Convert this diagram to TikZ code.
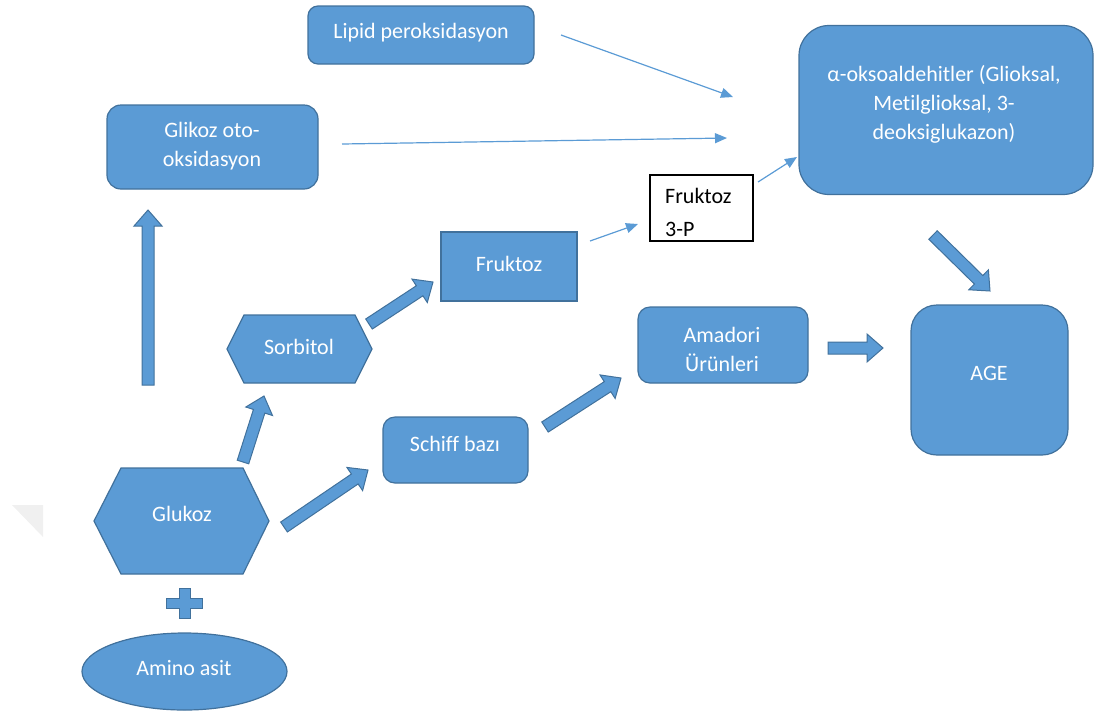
\documentclass[tikz,border=0pt]{standalone}
\usepackage{fontspec}
\setmainfont{Carlito}[Ligatures={NoCommon}]
\usetikzlibrary{calc,arrows.meta,shapes.geometric}
\definecolor{ofill}{HTML}{5B9BD5}
\definecolor{oline}{HTML}{41719C}
\def\blkw{6pt}
\def\blkh{14pt}
\def\blkl{16pt}
\newcommand\blockarrow[2]{%
  \draw[blk] ($(#1)!\blkw!90:(#2)$)
    -- ($(#2)!\blkl!(#1)!\blkw!-90:(#1)$)
    -- ($(#2)!\blkl!(#1)!\blkh!-90:(#1)$)
    -- (#2)
    -- ($(#2)!\blkl!(#1)!\blkh!90:(#1)$)
    -- ($(#2)!\blkl!(#1)!\blkw!90:(#1)$)
    -- ($(#1)!\blkw!-90:(#2)$) -- cycle;}
\begin{document}
\begin{tikzpicture}[x=1pt,y=-1pt,
  shapebox/.style={draw=oline, fill=ofill, line width=1.2pt, inner sep=0pt},
  rbox/.style={shapebox, rounded corners=#1},
  rbox/.default=12pt,
  txt/.style={text=white, font=\fontsize{22}{29}\selectfont, align=center, inner sep=0pt},
  blk/.style={draw=oline, fill=ofill, line width=1pt},
  thin/.style={draw=ofill, line width=1.2pt, -{Triangle[length=12pt,width=10pt]}}]
\useasboundingbox (0,0) rectangle (1094,716);

% faint artefact
\fill[gray!12] (12,505) -- (43,505) -- (43,537) -- cycle;

% boxes
\node[rbox=10pt, minimum width=226pt, minimum height=58pt] (lipid) at (421,35) {};
\node[txt] (lipidT) at (421,33) {Lipid peroksidasyon};

\node[rbox=14pt, minimum width=211pt, minimum height=84pt] (glik) at (212.5,147) {};
\node[txt] (glikT) at (212,146) {Glikoz oto-\\oksidasyon};

\node[rbox=30pt, minimum width=294pt, minimum height=169pt] (alpha) at (946,110) {};
\node[txt] (alphaT) at (944,104) {α-oksoaldehitler (Glioksal,\\Metilglioksal, 3-\\deoksiglukazon)};

\node[draw=black, fill=white, line width=1.2pt, minimum width=103pt, minimum height=66pt] (f3p) at (701.5,208) {};
\node[anchor=west, inner sep=0pt, align=left, font=\fontsize{22}{33}\selectfont, text=black] (f3pT) at (665,212) {Fruktoz\\3-P};

\node[shapebox, minimum width=136pt, minimum height=69pt] (fruk) at (509,266.5) {};
\node[txt] (frukT) at (509,264) {Fruktoz};

\draw[shapebox] (227,349) coordinate (sorb) -- (244,315) -- (355,315) -- (372,349) -- (355,383) -- (244,383) -- cycle;
\node[txt] (sorbT) at (299,347) {Sorbitol};

\draw[shapebox] (94,521) coordinate (gluk) -- (121,468) -- (243,468) -- (269,521) -- (243,574) -- (121,574) -- cycle;
\node[txt] (glukT) at (182,514) {Glukoz};

\node[shapebox, ellipse, minimum width=205pt, minimum height=77pt] (amino) at (184.5,671.5) {};
\node[txt] (aminoT) at (184,668) {Amino asit};

\node[rbox=12pt, minimum width=145pt, minimum height=66pt] (schiff) at (455.5,450) {};
\node[txt] (schiffT) at (455,444) {Schiff bazı};

\node[rbox=12pt, minimum width=170pt, minimum height=76pt] (amad) at (723,345) {};
\node[txt] (amadT) at (722,349) {Amadori\\Ürünleri};

\node[rbox=26pt, minimum width=157pt, minimum height=150pt] (age) at (989.5,380) {};
\node[txt] (ageT) at (989,373) {AGE};

% plus sign
\draw[blk] (179,588) -- (190,588) -- (190,598) -- (202,598) -- (202,608) -- (190,608) -- (190,618) -- (179,618) -- (179,608) -- (166,608) -- (166,598) -- (179,598) -- cycle;

% block arrow end points
\coordinate (u1) at (148,385); \coordinate (u2) at (148,210);
\coordinate (a1) at (243,462); \coordinate (a2) at (264,396);
\coordinate (b1) at (284,527); \coordinate (b2) at (368,470);
\coordinate (c1) at (369,324); \coordinate (c2) at (433,282);
\coordinate (d1) at (545,427); \coordinate (d2) at (621,378);
\coordinate (e1) at (828,348); \coordinate (e2) at (883,348);
\coordinate (f1) at (933,235); \coordinate (f2) at (990,291);
\blockarrow{u1}{u2}
\blockarrow{a1}{a2}
\blockarrow{b1}{b2}
\blockarrow{c1}{c2}
\blockarrow{d1}{d2}
\blockarrow{e1}{e2}
\blockarrow{f1}{f2}

% thin arrows
\coordinate (t1s) at (561,35);  \coordinate (t1e) at (733,97);
\coordinate (t2s) at (342,144); \coordinate (t2e) at (727,138);
\coordinate (t3s) at (590,241); \coordinate (t3e) at (638,224);
\coordinate (t4s) at (758,182); \coordinate (t4e) at (797,157);
\draw[thin] (t1s) -- (t1e);
\draw[thin] (t2s) -- (t2e);
\draw[thin] (t3s) -- (t3e);
\draw[thin] (t4s) -- (t4e);
\end{tikzpicture}
\end{document}
